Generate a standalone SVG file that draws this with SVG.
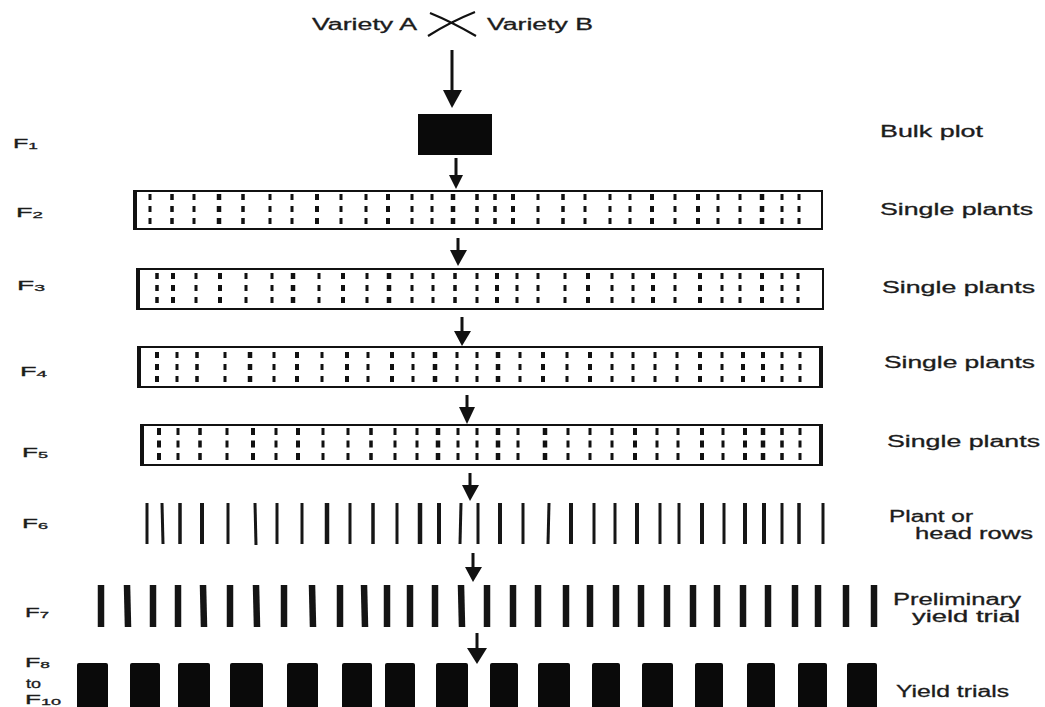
<svg xmlns="http://www.w3.org/2000/svg" width="1045" height="707" viewBox="0 0 1045 707">
<style>
text{font-family:"Liberation Sans",Arial,sans-serif;fill:#1c1c1c;stroke:#1c1c1c;stroke-width:0.3;}
.lbl{font-size:16px;}
.gen{font-size:13px;}
.sub{font-size:9px;}
.box{fill:none;stroke:#111;stroke-width:2;}
.edge{stroke:#111;stroke-width:4;}
.d2{stroke:#111;stroke-dasharray:6 6;}
.d5{stroke:#111;stroke-dasharray:7 5.5;}
.row{stroke:#161616;}
.bar{stroke:#141414;stroke-width:6.5;}
.blk{fill:#0a0a0a;}
.shaft{stroke:#111;stroke-width:3;fill:none;}
.head{fill:#111;}
</style>
<rect width="1045" height="707" fill="#fff"/>

<g id="parents">
<text class="lbl" x="312" y="30" textLength="105" lengthAdjust="spacingAndGlyphs">Variety A</text>
<path d="M430 13 Q452 22 476 36 M428 36 Q450 22 475 12" stroke="#111" stroke-width="2.2" fill="none"/>
<text class="lbl" x="487" y="30" textLength="106" lengthAdjust="spacingAndGlyphs">Variety B</text>
</g>

<g id="F1">
<text class="gen" x="13" y="148" textLength="25" lengthAdjust="spacingAndGlyphs">F<tspan class="sub" dy="1">1</tspan></text>
<rect x="418" y="114" width="74" height="41" fill="#0a0a0a"/>
<text class="lbl" x="880" y="137" textLength="103" lengthAdjust="spacingAndGlyphs">Bulk plot</text>
</g>

<g id="F2">
<text class="gen" x="16" y="217" textLength="27" lengthAdjust="spacingAndGlyphs">F<tspan class="sub" dy="1">2</tspan></text>
<rect class="box" x="134" y="191" width="688" height="38"/>
<line class="edge" x1="135" y1="190" x2="135" y2="230"/>
<g class="d2">
<line x1="150" y1="194" x2="150" y2="224" stroke-width="3"/>
<line x1="172" y1="194" x2="172" y2="224" stroke-width="3.5"/>
<line x1="194" y1="194" x2="194" y2="224" stroke-width="3"/>
<line x1="219" y1="194" x2="219" y2="224" stroke-width="4.5"/>
<line x1="243" y1="194" x2="243" y2="224" stroke-width="3.5"/>
<line x1="270" y1="194" x2="270" y2="224" stroke-width="3"/>
<line x1="292" y1="194" x2="292" y2="224" stroke-width="3"/>
<line x1="317" y1="194" x2="317" y2="224" stroke-width="4"/>
<line x1="341" y1="194" x2="341" y2="224" stroke-width="3"/>
<line x1="366" y1="194" x2="366" y2="224" stroke-width="3"/>
<line x1="388" y1="194" x2="388" y2="224" stroke-width="4"/>
<line x1="412" y1="194" x2="412" y2="224" stroke-width="3"/>
<line x1="432" y1="194" x2="432" y2="224" stroke-width="3"/>
<line x1="453" y1="194" x2="453" y2="224" stroke-width="4.5"/>
<line x1="477" y1="194" x2="477" y2="224" stroke-width="3.5"/>
<line x1="495" y1="194" x2="495" y2="224" stroke-width="3.5"/>
<line x1="513" y1="194" x2="513" y2="224" stroke-width="4"/>
<line x1="538" y1="194" x2="538" y2="224" stroke-width="3"/>
<line x1="563" y1="194" x2="563" y2="224" stroke-width="3.5"/>
<line x1="585" y1="194" x2="585" y2="224" stroke-width="3"/>
<line x1="610" y1="194" x2="610" y2="224" stroke-width="3"/>
<line x1="630" y1="194" x2="630" y2="224" stroke-width="3"/>
<line x1="652" y1="194" x2="652" y2="224" stroke-width="4"/>
<line x1="675" y1="194" x2="675" y2="224" stroke-width="3"/>
<line x1="698" y1="194" x2="698" y2="224" stroke-width="4"/>
<line x1="718" y1="194" x2="718" y2="224" stroke-width="3"/>
<line x1="740" y1="194" x2="740" y2="224" stroke-width="3"/>
<line x1="762" y1="194" x2="762" y2="224" stroke-width="4.5"/>
<line x1="782" y1="194" x2="782" y2="224" stroke-width="3"/>
<line x1="799" y1="194" x2="799" y2="224" stroke-width="3"/>
</g>
<text class="lbl" x="880" y="215" textLength="153" lengthAdjust="spacingAndGlyphs">Single plants</text>
</g>

<g id="F3">
<text class="gen" x="17" y="290" textLength="28" lengthAdjust="spacingAndGlyphs">F<tspan class="sub" dy="1">3</tspan></text>
<rect class="box" x="137" y="269" width="686" height="40"/>
<line class="edge" x1="138" y1="268" x2="138" y2="310"/>
<g class="d2">
<line x1="157" y1="273" x2="157" y2="303" stroke-width="3.5"/>
<line x1="173" y1="273" x2="173" y2="303" stroke-width="4"/>
<line x1="196" y1="273" x2="196" y2="303" stroke-width="3"/>
<line x1="220" y1="273" x2="220" y2="303" stroke-width="4"/>
<line x1="246" y1="273" x2="246" y2="303" stroke-width="3"/>
<line x1="272" y1="273" x2="272" y2="303" stroke-width="3"/>
<line x1="293" y1="273" x2="293" y2="303" stroke-width="4.5"/>
<line x1="319" y1="273" x2="319" y2="303" stroke-width="3"/>
<line x1="343" y1="273" x2="343" y2="303" stroke-width="4"/>
<line x1="367" y1="273" x2="367" y2="303" stroke-width="3"/>
<line x1="389" y1="273" x2="389" y2="303" stroke-width="4.5"/>
<line x1="412" y1="273" x2="412" y2="303" stroke-width="3"/>
<line x1="433" y1="273" x2="433" y2="303" stroke-width="3"/>
<line x1="455" y1="273" x2="455" y2="303" stroke-width="3.5"/>
<line x1="477" y1="273" x2="477" y2="303" stroke-width="3"/>
<line x1="497" y1="273" x2="497" y2="303" stroke-width="4"/>
<line x1="517" y1="273" x2="517" y2="303" stroke-width="3"/>
<line x1="538" y1="273" x2="538" y2="303" stroke-width="3"/>
<line x1="565" y1="273" x2="565" y2="303" stroke-width="3"/>
<line x1="588" y1="273" x2="588" y2="303" stroke-width="4"/>
<line x1="612" y1="273" x2="612" y2="303" stroke-width="3"/>
<line x1="633" y1="273" x2="633" y2="303" stroke-width="3"/>
<line x1="653" y1="273" x2="653" y2="303" stroke-width="4"/>
<line x1="675" y1="273" x2="675" y2="303" stroke-width="3"/>
<line x1="700" y1="273" x2="700" y2="303" stroke-width="4"/>
<line x1="722" y1="273" x2="722" y2="303" stroke-width="3"/>
<line x1="740" y1="273" x2="740" y2="303" stroke-width="3"/>
<line x1="762" y1="273" x2="762" y2="303" stroke-width="4"/>
<line x1="782" y1="273" x2="782" y2="303" stroke-width="3"/>
<line x1="798" y1="273" x2="798" y2="303" stroke-width="3"/>
</g>
<text class="lbl" x="882" y="293" textLength="153" lengthAdjust="spacingAndGlyphs">Single plants</text>
</g>

<g id="F4">
<text class="gen" x="20" y="376" textLength="27" lengthAdjust="spacingAndGlyphs">F<tspan class="sub" dy="1">4</tspan></text>
<rect class="box" x="138" y="347" width="684" height="40"/>
<line class="edge" x1="139" y1="346" x2="139" y2="388"/>
<line class="edge" x1="821" y1="346" x2="821" y2="388"/>
<g class="d2">
<line x1="157" y1="352" x2="157" y2="382" stroke-width="4"/>
<line x1="177" y1="352" x2="177" y2="382" stroke-width="3"/>
<line x1="197" y1="352" x2="197" y2="382" stroke-width="3.5"/>
<line x1="225" y1="352" x2="225" y2="382" stroke-width="3"/>
<line x1="250" y1="352" x2="250" y2="382" stroke-width="4.5"/>
<line x1="274" y1="352" x2="274" y2="382" stroke-width="3"/>
<line x1="297" y1="352" x2="297" y2="382" stroke-width="4"/>
<line x1="322" y1="352" x2="322" y2="382" stroke-width="3"/>
<line x1="347" y1="352" x2="347" y2="382" stroke-width="4"/>
<line x1="368" y1="352" x2="368" y2="382" stroke-width="3"/>
<line x1="392" y1="352" x2="392" y2="382" stroke-width="4"/>
<line x1="413" y1="352" x2="413" y2="382" stroke-width="3"/>
<line x1="435" y1="352" x2="435" y2="382" stroke-width="4.5"/>
<line x1="457" y1="352" x2="457" y2="382" stroke-width="3"/>
<line x1="477" y1="352" x2="477" y2="382" stroke-width="3"/>
<line x1="498" y1="352" x2="498" y2="382" stroke-width="4.5"/>
<line x1="520" y1="352" x2="520" y2="382" stroke-width="3"/>
<line x1="543" y1="352" x2="543" y2="382" stroke-width="4"/>
<line x1="567" y1="352" x2="567" y2="382" stroke-width="3"/>
<line x1="590" y1="352" x2="590" y2="382" stroke-width="4"/>
<line x1="612" y1="352" x2="612" y2="382" stroke-width="3"/>
<line x1="633" y1="352" x2="633" y2="382" stroke-width="3"/>
<line x1="655" y1="352" x2="655" y2="382" stroke-width="3"/>
<line x1="677" y1="352" x2="677" y2="382" stroke-width="3"/>
<line x1="700" y1="352" x2="700" y2="382" stroke-width="4"/>
<line x1="722" y1="352" x2="722" y2="382" stroke-width="3"/>
<line x1="743" y1="352" x2="743" y2="382" stroke-width="4"/>
<line x1="763" y1="352" x2="763" y2="382" stroke-width="4"/>
<line x1="782" y1="352" x2="782" y2="382" stroke-width="3"/>
<line x1="800" y1="352" x2="800" y2="382" stroke-width="3"/>
</g>
<text class="lbl" x="884" y="368" textLength="151" lengthAdjust="spacingAndGlyphs">Single plants</text>
</g>

<g id="F5">
<text class="gen" x="22" y="457" textLength="26" lengthAdjust="spacingAndGlyphs">F<tspan class="sub" dy="1">5</tspan></text>
<rect class="box" x="141" y="425" width="681" height="40"/>
<line class="edge" x1="142" y1="424" x2="142" y2="466"/>
<line class="edge" x1="821" y1="424" x2="821" y2="466"/>
<g class="d5">
<line x1="159" y1="428" x2="159" y2="460" stroke-width="4"/>
<line x1="178" y1="428" x2="178" y2="460" stroke-width="3"/>
<line x1="200" y1="428" x2="200" y2="460" stroke-width="3.5"/>
<line x1="227" y1="428" x2="227" y2="460" stroke-width="3"/>
<line x1="253" y1="428" x2="253" y2="460" stroke-width="4"/>
<line x1="276" y1="428" x2="276" y2="460" stroke-width="3"/>
<line x1="298" y1="428" x2="298" y2="460" stroke-width="4"/>
<line x1="323" y1="428" x2="323" y2="460" stroke-width="3"/>
<line x1="348" y1="428" x2="348" y2="460" stroke-width="3"/>
<line x1="371" y1="428" x2="371" y2="460" stroke-width="3.5"/>
<line x1="395" y1="428" x2="395" y2="460" stroke-width="3"/>
<line x1="417" y1="428" x2="417" y2="460" stroke-width="3"/>
<line x1="438" y1="428" x2="438" y2="460" stroke-width="4.5"/>
<line x1="458" y1="428" x2="458" y2="460" stroke-width="3"/>
<line x1="477" y1="428" x2="477" y2="460" stroke-width="3"/>
<line x1="498" y1="428" x2="498" y2="460" stroke-width="4.5"/>
<line x1="518" y1="428" x2="518" y2="460" stroke-width="3"/>
<line x1="545" y1="428" x2="545" y2="460" stroke-width="4.5"/>
<line x1="568" y1="428" x2="568" y2="460" stroke-width="3"/>
<line x1="590" y1="428" x2="590" y2="460" stroke-width="3"/>
<line x1="612" y1="428" x2="612" y2="460" stroke-width="3"/>
<line x1="635" y1="428" x2="635" y2="460" stroke-width="4"/>
<line x1="657" y1="428" x2="657" y2="460" stroke-width="3"/>
<line x1="678" y1="428" x2="678" y2="460" stroke-width="3"/>
<line x1="702" y1="428" x2="702" y2="460" stroke-width="4"/>
<line x1="723" y1="428" x2="723" y2="460" stroke-width="3"/>
<line x1="745" y1="428" x2="745" y2="460" stroke-width="4"/>
<line x1="763" y1="428" x2="763" y2="460" stroke-width="4.5"/>
<line x1="782" y1="428" x2="782" y2="460" stroke-width="3.5"/>
<line x1="800" y1="428" x2="800" y2="460" stroke-width="3"/>
</g>
<text class="lbl" x="887" y="447" textLength="153" lengthAdjust="spacingAndGlyphs">Single plants</text>
</g>

<g id="F6">
<text class="gen" x="22" y="528" textLength="26" lengthAdjust="spacingAndGlyphs">F<tspan class="sub" dy="1">6</tspan></text>
<g class="row">
<line x1="147" y1="503" x2="147" y2="544" stroke-width="3"/>
<line x1="162" y1="503" x2="163" y2="544" stroke-width="3"/>
<line x1="180" y1="503" x2="180" y2="544" stroke-width="3.5"/>
<line x1="202" y1="503" x2="202" y2="544" stroke-width="4"/>
<line x1="228" y1="503" x2="228" y2="544" stroke-width="3"/>
<line x1="255" y1="503" x2="256" y2="545" stroke-width="3"/>
<line x1="277" y1="503" x2="277" y2="544" stroke-width="3"/>
<line x1="302" y1="503" x2="302" y2="544" stroke-width="3"/>
<line x1="327" y1="503" x2="327" y2="544" stroke-width="4.5"/>
<line x1="350" y1="503" x2="350" y2="544" stroke-width="3"/>
<line x1="373" y1="503" x2="373" y2="544" stroke-width="3.5"/>
<line x1="397" y1="503" x2="397" y2="544" stroke-width="3"/>
<line x1="420" y1="503" x2="420" y2="544" stroke-width="4.5"/>
<line x1="439" y1="503" x2="439" y2="544" stroke-width="4"/>
<line x1="461" y1="503" x2="460" y2="544" stroke-width="3"/>
<line x1="478" y1="503" x2="478" y2="544" stroke-width="3"/>
<line x1="500" y1="503" x2="500" y2="544" stroke-width="4"/>
<line x1="523" y1="503" x2="523" y2="544" stroke-width="3"/>
<line x1="549" y1="503" x2="548" y2="544" stroke-width="3"/>
<line x1="571" y1="503" x2="571" y2="544" stroke-width="4"/>
<line x1="594" y1="503" x2="594" y2="544" stroke-width="3"/>
<line x1="615" y1="503" x2="615" y2="544" stroke-width="3"/>
<line x1="637" y1="503" x2="637" y2="544" stroke-width="4"/>
<line x1="660" y1="503" x2="660" y2="544" stroke-width="3"/>
<line x1="679" y1="503" x2="679" y2="544" stroke-width="3"/>
<line x1="702" y1="503" x2="702" y2="544" stroke-width="4"/>
<line x1="724" y1="503" x2="724" y2="544" stroke-width="3"/>
<line x1="745" y1="503" x2="745" y2="544" stroke-width="4"/>
<line x1="764" y1="503" x2="764" y2="544" stroke-width="4"/>
<line x1="782" y1="503" x2="782" y2="544" stroke-width="3"/>
<line x1="799" y1="503" x2="799" y2="544" stroke-width="3.5"/>
<line x1="823" y1="503" x2="823" y2="544" stroke-width="3"/>
</g>
<text class="lbl" x="889" y="522" textLength="84" lengthAdjust="spacingAndGlyphs">Plant or</text>
<text class="lbl" x="915" y="539" textLength="118" lengthAdjust="spacingAndGlyphs">head rows</text>
</g>

<g id="F7">
<text class="gen" x="25" y="617" textLength="24" lengthAdjust="spacingAndGlyphs">F<tspan class="sub" dy="1">7</tspan></text>
<g class="bar">
<line x1="101" y1="585" x2="101" y2="627"/>
<line x1="127" y1="585" x2="128" y2="627"/>
<line x1="153" y1="585" x2="153" y2="627"/>
<line x1="178" y1="585" x2="178" y2="627"/>
<line x1="203" y1="585" x2="204" y2="627"/>
<line x1="230" y1="585" x2="230" y2="627"/>
<line x1="256" y1="585" x2="257" y2="627"/>
<line x1="284" y1="585" x2="284" y2="627"/>
<line x1="312" y1="585" x2="313" y2="627"/>
<line x1="340" y1="585" x2="340" y2="627"/>
<line x1="364" y1="585" x2="365" y2="627"/>
<line x1="387" y1="585" x2="387" y2="627"/>
<line x1="410" y1="585" x2="410" y2="627"/>
<line x1="435" y1="585" x2="435" y2="627"/>
<line x1="461" y1="585" x2="462" y2="627"/>
<line x1="487" y1="585" x2="487" y2="627"/>
<line x1="513" y1="585" x2="513" y2="627"/>
<line x1="538" y1="585" x2="538" y2="627"/>
<line x1="566" y1="585" x2="566" y2="627"/>
<line x1="590" y1="585" x2="590" y2="627"/>
<line x1="616" y1="585" x2="616" y2="627"/>
<line x1="641" y1="585" x2="641" y2="627"/>
<line x1="667" y1="585" x2="667" y2="627"/>
<line x1="693" y1="585" x2="693" y2="627"/>
<line x1="717" y1="585" x2="717" y2="627"/>
<line x1="743" y1="585" x2="743" y2="627"/>
<line x1="768" y1="585" x2="768" y2="627"/>
<line x1="795" y1="585" x2="795" y2="627"/>
<line x1="818" y1="585" x2="818" y2="627"/>
<line x1="846" y1="585" x2="846" y2="627"/>
<line x1="874" y1="585" x2="874" y2="627"/>
</g>
<text class="lbl" x="893" y="605" textLength="128" lengthAdjust="spacingAndGlyphs">Preliminary</text>
<text class="lbl" x="912" y="622" textLength="108" lengthAdjust="spacingAndGlyphs">yield trial</text>
</g>

<g id="F8">
<text class="gen" x="25" y="667" textLength="25" lengthAdjust="spacingAndGlyphs">F<tspan class="sub" dy="1">8</tspan></text>
<text class="gen" x="26" y="688" textLength="15" lengthAdjust="spacingAndGlyphs">to</text>
<text class="gen" x="25" y="704" textLength="36" lengthAdjust="spacingAndGlyphs">F<tspan class="sub" dy="1">10</tspan></text>
<g class="blk">
<rect x="77" y="663" width="31" height="46" rx="2"/>
<rect x="130" y="663" width="30" height="46" rx="2"/>
<rect x="178" y="663" width="32" height="46" rx="2"/>
<rect x="230" y="663" width="33" height="46" rx="2"/>
<rect x="287" y="663" width="31" height="46" rx="2"/>
<rect x="342" y="663" width="30" height="46" rx="2"/>
<rect x="385" y="663" width="30" height="46" rx="2"/>
<rect x="436" y="663" width="32" height="46" rx="2"/>
<rect x="490" y="663" width="28" height="46" rx="2"/>
<rect x="538" y="663" width="32" height="46" rx="2"/>
<rect x="592" y="663" width="28" height="46" rx="2"/>
<rect x="642" y="663" width="31" height="46" rx="2"/>
<rect x="695" y="663" width="28" height="46" rx="2"/>
<rect x="747" y="663" width="28" height="46" rx="2"/>
<rect x="798" y="663" width="29" height="46" rx="2"/>
<rect x="847" y="663" width="30" height="46" rx="2"/>
</g>
<text class="lbl" x="896" y="697" textLength="113" lengthAdjust="spacingAndGlyphs">Yield trials</text>
</g>

<g id="connectors">
<line class="shaft" x1="452" y1="50" x2="452" y2="92"/>
<polygon class="head" points="443,90 462,90 452,108"/>
<line class="shaft" x1="456" y1="158" x2="456" y2="177"/>
<polygon class="head" points="449,175 463,175 456,189"/>
<line class="shaft" x1="458" y1="238" x2="458" y2="252"/>
<polygon class="head" points="450,250 467,250 458,266"/>
<line class="shaft" x1="462" y1="317" x2="462" y2="333"/>
<polygon class="head" points="454,331 471,331 462,346"/>
<line class="shaft" x1="467" y1="395" x2="467" y2="409"/>
<polygon class="head" points="459,407 475,407 467,424"/>
<line class="shaft" x1="470" y1="473" x2="470" y2="487"/>
<polygon class="head" points="462,485 479,485 470,501"/>
<line class="shaft" x1="473" y1="553" x2="473" y2="569"/>
<polygon class="head" points="465,567 482,567 473,582"/>
<line class="shaft" x1="477" y1="633" x2="477" y2="650"/>
<polygon class="head" points="467,648 487,648 477,664"/>
</g>
</svg>
